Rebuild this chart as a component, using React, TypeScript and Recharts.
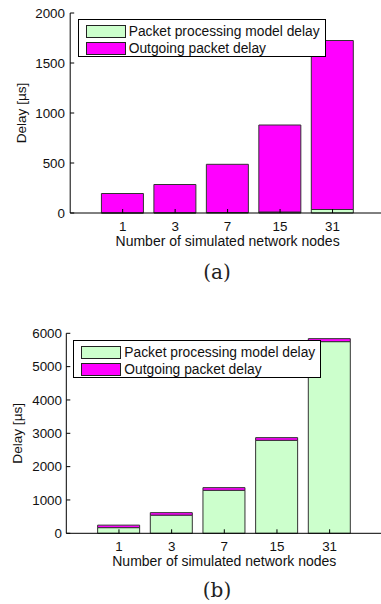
import React from 'react';
import { BarChart, Bar, XAxis, YAxis, Legend } from 'recharts';

// number of simulated network nodes
const nodes = ['1', '3', '7', '15', '31'];

// (a) delays in µs
const procDelayA = [2, 3, 5, 10, 35];
const outDelayA = [193, 282, 482, 870, 1690];

// (b) delays in µs
const procDelayB = [170, 545, 1290, 2790, 5750];
const outDelayB = [75, 75, 80, 80, 90];

const ticksA = [0, 500, 1000, 1500, 2000];
const ticksB = [0, 1000, 2000, 3000, 4000, 5000, 6000];

const GREEN = '#ccffcc';
const MAGENTA = '#ff00ff';
const FONT = '"Liberation Sans", Arial, sans-serif';

const seriesNames = ['Packet processing model delay', 'Outgoing packet delay'];
const seriesColors = [GREEN, MAGENTA];

const tickStyle = { fontSize: 13.4, fill: '#111', fontFamily: FONT };

const LegendBox = () => (
  <div
    style={{
      border: '1px solid #000',
      background: '#fff',
      width: 248,
      height: 38,
      boxSizing: 'border-box',
      padding: '3px 0 0 7px',
      fontFamily: FONT,
      fontSize: 13.8,
      color: '#111',
    }}
  >
    {seriesNames.map((name, i) => (
      <div key={name} style={{ display: 'flex', alignItems: 'center', height: 16.8 }}>
        <span
          style={{
            display: 'inline-block',
            width: 40,
            height: 13,
            boxSizing: 'border-box',
            border: '1px solid #222',
            background: seriesColors[i],
            marginRight: 3,
          }}
        />
        <span style={{ whiteSpace: 'nowrap' }}>{name}</span>
      </div>
    ))}
  </div>
);

type PanelProps = {
  proc: number[];
  out: number[];
  ticks: number[];
  yMax: number;
  top: number;
  marginTop: number;
  leftWidth: number;
  marginRight: number;
  bottom: number;
  yLabelOffset: number;
  yTickMargin: number;
  legendLeft: number;
  legendTop: number;
};

const Panel = (p: PanelProps) => {
  const data = nodes.map((n, i) => ({ nodes: n, proc: p.proc[i], out: p.out[i] }));
  const pad = (400 - p.leftWidth - p.marginRight) / 12;
  return (
    <div style={{ position: 'absolute', left: 0, top: p.top }}>
      <BarChart
        width={400}
        height={300}
        data={data}
        margin={{ top: p.marginTop, right: p.marginRight, left: 0, bottom: p.bottom }}
        barSize={42}
      >
        <XAxis
          dataKey="nodes"
          xAxisId={0}
          padding={{ left: pad, right: pad }}
          height={36}
          tickSize={-4}
          tickMargin={12.5}
          tick={tickStyle}
          stroke="#000"
          interval={0}
          label={{
            value: 'Number of simulated network nodes',
            position: 'insideBottom',
            offset: 3,
            style: { fontSize: 14, fill: '#111', fontFamily: FONT },
          }}
        />
        <XAxis
          dataKey="nodes"
          xAxisId="top"
          orientation="top"
          padding={{ left: pad, right: pad }}
          height={0}
          tickSize={-4}
          tickFormatter={() => ''}
          stroke="#000"
          interval={0}
        />
        <YAxis
          yAxisId={0}
          width={p.leftWidth}
          domain={[0, p.yMax]}
          ticks={p.ticks}
          interval={0}
          tickSize={-4}
          tickMargin={p.yTickMargin}
          tick={tickStyle}
          stroke="#000"
          label={{
            value: 'Delay [µs]',
            angle: -90,
            position: 'insideLeft',
            offset: p.yLabelOffset,
            style: { fontSize: 13.6, fill: '#111', fontFamily: FONT, textAnchor: 'middle' },
          }}
        />
        <YAxis
          yAxisId="right"
          orientation="right"
          width={0}
          domain={[0, p.yMax]}
          ticks={p.ticks}
          interval={0}
          tickSize={-4}
          tickFormatter={() => ''}
          stroke="#000"
        />
        <Legend
          layout="horizontal"
          verticalAlign="middle"
          align="center"
          wrapperStyle={{ left: p.legendLeft, top: p.legendTop, width: 'auto' }}
          content={() => <LegendBox />}
        />
        <Bar dataKey="proc" stackId="s" fill={GREEN} stroke="#333" strokeWidth={1} isAnimationActive={false} />
        <Bar dataKey="out" stackId="s" fill={MAGENTA} stroke="#333" strokeWidth={1} isAnimationActive={false} />
      </BarChart>
    </div>
  );
};

const Caption = ({ text, top }: { text: string; top: number }) => (
  <div
    style={{
      position: 'absolute',
      left: 167,
      width: 100,
      top,
      textAlign: 'center',
      fontFamily: '"DejaVu Serif", serif',
      fontSize: 20,
      lineHeight: '24px',
      color: '#222',
    }}
  >
    {text}
  </div>
);

export default function App() {
  return (
    <div style={{ position: 'absolute', left: 0, top: 0, width: 381, height: 604, overflow: 'hidden', background: '#fff' }}>
      <Panel
        proc={procDelayA}
        out={outDelayA}
        ticks={ticksA}
        yMax={2000}
        top={0}
        marginTop={13}
        leftWidth={70.2}
        marginRight={15}
        bottom={300 - 213 - 36}
        yLabelOffset={21.5}
        yTickMargin={9.2}
        legendLeft={77.7}
        legendTop={19}
      />
      <Caption text="(a)" top={260} />
      <Panel
        proc={procDelayB}
        out={outDelayB}
        ticks={ticksB}
        yMax={6000}
        top={300}
        marginTop={33.3}
        leftWidth={66.3}
        marginRight={17.7}
        bottom={300 - 233.3 - 36}
        yLabelOffset={17}
        yTickMargin={8.3}
        legendLeft={73.3}
        legendTop={40}
      />
      <Caption text="(b)" top={578} />
    </div>
  );
}
